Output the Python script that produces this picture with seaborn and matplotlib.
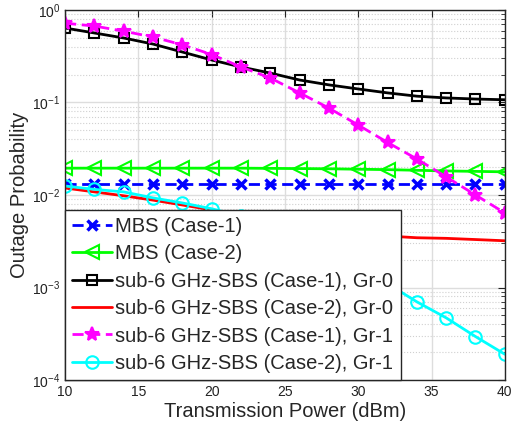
import numpy as np
import pandas as pd
import seaborn as sns
import matplotlib.pyplot as plt
from matplotlib.ticker import LogLocator, NullFormatter

power = [10, 12, 14, 16, 18, 20, 22, 24, 26, 28, 30, 32, 34, 36, 38, 40]

mbs_case1 = [0.0133] * 16
mbs_case2 = [0.0195, 0.0195, 0.0195, 0.0195, 0.0195, 0.0195, 0.0195, 0.0194,
             0.0193, 0.0192, 0.019, 0.0188, 0.0185, 0.0182, 0.018, 0.0178]
sbs_c1_gr0 = [0.638, 0.564, 0.498, 0.428, 0.351, 0.288, 0.242, 0.208,
              0.175, 0.155, 0.14, 0.127, 0.117, 0.112, 0.109, 0.107]
sbs_c2_gr0 = [0.0119, 0.0108, 0.0098, 0.0088, 0.0078, 0.0069, 0.006, 0.0052,
              0.0046, 0.0041, 0.0038, 0.0036, 0.00345, 0.0034, 0.0033, 0.0032]
sbs_c1_gr1 = [0.72, 0.67, 0.59, 0.51, 0.42, 0.33, 0.242, 0.184,
              0.127, 0.087, 0.057, 0.037, 0.0245, 0.0157, 0.01, 0.0064]
sbs_c2_gr1 = [0.0125, 0.0115, 0.0108, 0.0093, 0.0082, 0.0071, 0.0059, 0.0047,
              0.0035, 0.0025, 0.0017, 0.0011, 0.0007, 0.00047, 0.000295, 0.00019]

labels = ['MBS (Case-1)', 'MBS (Case-2)', 'sub-6 GHz-SBS (Case-1), Gr-0',
          'sub-6 GHz-SBS (Case-2), Gr-0', 'sub-6 GHz-SBS (Case-1), Gr-1',
          'sub-6 GHz-SBS (Case-2), Gr-1']
series = [mbs_case1, mbs_case2, sbs_c1_gr0, sbs_c2_gr0, sbs_c1_gr1, sbs_c2_gr1]

styles = [
    dict(color='#0000ff', marker='x', ls=(0, (4, 2)), ms=7, mew=2.5, mfc='#0000ff'),
    dict(color='#00ff00', marker='<', ls='-', ms=10, mew=1.5, mfc='none'),
    dict(color='black', marker='s', ls='-', ms=7.5, mew=1.5, mfc='none'),
    dict(color='#ff0000', marker='None', ls='-', ms=0, mew=0, mfc='none'),
    dict(color='#ff00ff', marker='*', ls=(0, (4, 2)), ms=10, mew=1.5, mfc='#ff00ff'),
    dict(color='#00ffff', marker='o', ls='-', ms=9, mew=1.5, mfc='none'),
]

sns.set_style('white')
plt.rcParams['font.family'] = ['Liberation Sans', 'DejaVu Sans']

fig = plt.figure(figsize=(5.13, 4.34), dpi=100)
ax = fig.add_axes([0.127, 0.1244, 0.857, 0.8526])

for lab, vals, st in zip(labels, series, styles):
    df = pd.DataFrame({'power': power, 'p': vals})
    sns.lineplot(data=df, x='power', y='p', ax=ax, label=lab, color=st['color'], linewidth=2)
    line = ax.lines[-1]
    line.set_linestyle(st['ls'])
    line.set_marker(st['marker'])
    line.set_markersize(st['ms'])
    line.set_markeredgewidth(st['mew'])
    line.set_markeredgecolor(st['color'])
    line.set_markerfacecolor(st['mfc'])

ax.set_yscale('log')
ax.set_xlim(10, 40)
ax.set_ylim(1e-4, 1)
ax.set_xticks([10, 15, 20, 25, 30, 35, 40])
ax.yaxis.set_major_locator(LogLocator(base=10, numticks=10))
ax.yaxis.set_minor_locator(LogLocator(base=10, subs=np.arange(2, 10), numticks=10))
ax.yaxis.set_minor_formatter(NullFormatter())

ax.grid(True, which='major', color='#dddddd', linewidth=1, linestyle='-')
ax.grid(True, which='minor', axis='y', color='#d0d0d0', linewidth=0.8, linestyle=':')
ax.set_axisbelow(True)

ax.tick_params(which='both', direction='in', top=True, right=True, labelsize=10, colors='#222222')
ax.tick_params(which='major', length=5)
ax.tick_params(which='minor', length=3)
for s in ax.spines.values():
    s.set_color('#262626')
    s.set_linewidth(1)

ax.set_xlabel('Transmission Power (dBm)', fontsize=14.5, color='#262626', labelpad=2)
ax.set_ylabel('Outage Probability', fontsize=14.5, color='#262626', labelpad=2)

leg = ax.legend(loc='lower left', fontsize=14.5, frameon=True, fancybox=False,
                borderaxespad=0, handlelength=2.0, handletextpad=0.15,
                labelspacing=0.42, borderpad=0.35)
leg.get_frame().set_edgecolor('#262626')
leg.get_frame().set_linewidth(1)
leg.get_frame().set_alpha(1)

fig.savefig('out.png', dpi=100)
